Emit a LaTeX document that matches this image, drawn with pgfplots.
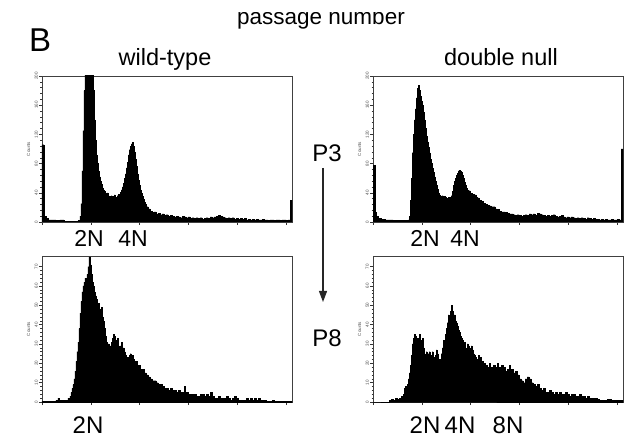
\documentclass[border=0pt]{standalone}
\usepackage{fontspec}
\setmainfont{Liberation Sans}
\usepackage{pgfplots}
\pgfplotsset{compat=1.18}
\usetikzlibrary{arrows.meta}

\pgfplotstableread{
x y
0 106
2 8
4 5
6 3
10 3
14 2
18 3
22 1
26 1
30 1
34 1
36 2
38 8
39 25
40 70
41 125
42 180
43 210
44 230
46 240
48 235
50 210
51 180
52 140
53 112
54 92
55 80
56 70
57 62
58 56
59 52
60 47
61 44
62 42
63 40
64 38
65 40
66 36
67 35
68 34
69 36
70 33
71 35
72 37
73 32
74 34
75 36
76 38
77 35
78 41
79 44
80 48
81 53
82 60
83 66
84 74
85 82
86 92
87 99
88 104
89 107
90 109
91 104
92 96
93 86
94 76
95 66
96 57
97 50
98 44
99 39
100 35
101 31
102 27
103 24
104 21
106 18
108 15
110 13
112 14
114 11
116 12
118 10
120 11
122 9
124 10
126 8
128 9
130 8
132 7
134 8
136 7
138 6
140 8
142 7
144 6
146 7
148 5
150 6
152 5
154 6
156 5
158 6
160 4
162 5
164 6
166 5
168 7
170 6
172 7
174 8
176 9
178 8
180 7
182 6
184 5
186 6
188 5
190 6
192 4
194 5
196 4
198 5
200 4
202 5
204 3
206 4
208 3
210 4
212 3
214 4
216 3
218 3
220 4
222 3
224 3
226 2
228 3
230 3
232 2
234 3
236 3
238 2
240 3
242 3
244 2
246 3
248 30
250 30
}\wtthree

\pgfplotstableread{
x y
0 78
2 14
3 8
5 5
8 4
12 3
16 3
20 2
24 2
28 2
32 2
35 3
36 8
37 30
38 60
39 95
40 120
41 140
42 155
43 170
44 183
45 187
46 180
47 172
48 166
49 160
50 150
51 140
52 128
53 118
54 110
55 102
56 95
57 86
58 80
59 74
60 68
61 62
62 56
63 50
64 45
65 40
66 37
67 36
68 34
69 36
70 33
71 35
72 34
73 33
74 32
75 34
76 33
77 34
78 36
79 42
80 50
81 56
82 60
83 64
84 67
85 70
86 71
87 70
88 68
89 64
90 60
91 54
92 50
93 46
94 44
95 42
96 43
97 40
98 39
99 37
100 38
101 36
102 37
103 34
104 33
106 30
108 28
110 26
112 24
114 23
116 22
118 21
120 21
122 18
124 17
126 15
128 14
130 14
132 13
134 12
136 11
138 11
140 10
142 9
144 10
146 9
148 8
150 9
152 10
154 9
156 11
158 10
160 11
162 9
164 12
166 11
168 10
170 9
172 8
174 9
176 8
178 9
180 10
182 8
184 7
186 8
188 9
190 7
192 6
194 7
196 6
198 7
200 6
202 5
204 6
206 5
208 6
210 5
212 4
214 6
216 5
218 4
220 5
222 4
224 4
226 3
228 4
230 3
232 4
234 3
236 3
238 4
240 3
242 3
244 4
246 3
248 100
250 100
}\dnthree

\pgfplotstableread{
x y
0 0.3
14 1
16 2
17 1
20 1
24 1
26 2
28 3
29 5
30 7
31 9
32 12
33 16
34 21
35 26
36 31
37 38
38 46
39 52
40 57
41 60
42 62
43 64
44 63
45 66
46 70
47 75
48 71
49 66
50 62
51 60
52 57
53 55
54 53
55 50
56 51
57 48
58 47
59 49
60 44
61 42
62 38
63 34
64 31
65 29
66 30
67 28
68 29
69 31
70 33
71 35
72 34
73 32
74 30
75 33
76 29
77 27
78 29
79 31
80 27
81 28
82 26
83 24
84 23
85 22
86 23
87 24
88 25
89 23
90 24
91 22
92 21
93 20
94 21
95 19
96 18
97 19
98 17
99 16
100 17
102 15
104 14
106 13
108 12
110 11
112 11
114 10
116 9
118 9
120 8
122 7
124 7
126 6
128 7
130 6
132 6
134 5
136 6
138 5
140 5
142 8
143 5
146 4
148 4
150 4
152 4
154 3
156 3
158 4
160 4
162 3
164 4
166 3
168 5
170 3
172 2
174 2
176 3
178 2
180 2
182 2
184 3
186 2
188 1
190 2
192 3
194 2
196 1
198 1
200 1
202 1
204 2
206 1
208 2
210 1
212 2
214 1
216 2
218 1
220 1
222 1
224 0.5
230 1
232 0.5
240 0.5
250 0.5
}\wteight

\pgfplotstableread{
x y
0 0
16 1
18 1.5
20 1
22 2
24 1.5
26 2
28 3
30 4
31 7
32 8
33 7
34 9
35 12
36 15
37 19
38 24
39 30
40 33
41 35
42 34
43 33
44 31
45 33
46 35
47 32
48 30
49 33
50 28
51 25
52 24
53 26
54 23
55 25
56 26
57 22
58 24
59 26
60 23
61 21
62 24
63 27
64 25
65 22
66 21
67 22
68 25
69 28
70 32
71 30
72 35
73 38
74 41
75 45
76 43
77 47
78 50
79 47
80 44
81 45
82 42
83 41
84 39
85 37
86 36
87 34
88 33
89 32
90 30
91 31
92 28
93 27
94 30
95 29
96 28
97 26
98 29
99 27
100 25
101 24
102 23
103 22
104 22
105 24
106 23
108 21
110 20
112 19
114 18
116 20
117 17
118 18
120 19
122 18
124 20
125 17
126 18
128 19
130 18
132 16
134 17
136 19
137 16
138 17
140 15
142 16
144 14
146 12
148 11
150 10
152 12
154 13
156 12
158 10
160 9
162 8
164 9
166 7
168 6
170 7
172 5
174 5
176 6
178 5
180 4
182 5
184 4
186 5
188 4
190 4
192 5
194 4
196 3
198 4
200 4
202 3
204 3
206 4
208 3
210 3
212 2
214 3
216 2
218 2
220 2
222 2
224 1.5
226 1
234 1.5
238 1
250 1
}\dneight

\pgfplotsset{hist/.style={
  scale only axis, width=250pt, height=146pt,
  xmin=0, xmax=250, ymin=0,
  anchor=south west,
  axis line style={black!75, line width=0.6pt},
  tick pos=left, tick align=outside,
  major tick length=3pt, minor tick length=1.5pt,
  every tick/.style={black!80, line width=0.45pt},
  xtick={0,48.83,97.66,146.48,195.31,244.14}, xticklabels={},
  minor x tick num=4,
  /pgf/number format/assume math mode=true,
  yticklabel style={rotate=90, anchor=south, font=\fontsize{4.5}{5}\selectfont, text=black!70, inner sep=1pt},
  ylabel={Counts},
  ylabel style={font=\fontsize{4.5}{5}\selectfont, text=black!70},
},
histplot/.style={fill=black, draw=black, line width=0.2pt, const plot}}

\begin{document}
\begin{tikzpicture}[x=1pt,y=1pt]

\begin{axis}[hist, at={(42pt,215pt)}, ymax=200, ytick={0,40,80,120,160,200}, minor y tick num=4]
\addplot[histplot] table {\wtthree} \closedcycle;
\end{axis}
\begin{axis}[hist, at={(373pt,215pt)}, ymax=200, ytick={0,40,80,120,160,200}, minor y tick num=4]
\addplot[histplot] table {\dnthree} \closedcycle;
\end{axis}
\begin{axis}[hist, at={(42pt,35pt)}, ymax=75.5, ytick={0,10,20,30,40,50,60,70}, minor y tick num=4]
\addplot[histplot] table {\wteight} \closedcycle;
\end{axis}
\begin{axis}[hist, at={(373pt,35pt)}, ymax=75.5, ytick={0,10,20,30,40,50,60,70}, minor y tick num=4]
\addplot[histplot] table {\dneight} \closedcycle;
\end{axis}

\node[anchor=base, font=\fontsize{22.5}{24}\selectfont] at (321,412) {passage number};
\fill[white] (180,425) rectangle (470,445);
\node[anchor=base west, inner sep=0pt, font=\fontsize{33}{35}\selectfont] at (29,385) {B};
\node[anchor=base, font=\fontsize{23.5}{25}\selectfont] at (165,371) {wild-type};
\node[anchor=base, font=\fontsize{23.5}{25}\selectfont] at (501,371) {double null};
\node[anchor=base, font=\fontsize{24}{25}\selectfont] at (327,275) {P3};
\node[anchor=base, font=\fontsize{24}{25}\selectfont] at (327,90) {P8};
\draw[line width=1.2pt, black!85, -{Triangle[length=11pt,width=8pt]}] (323,269) -- (323,135);

\node[anchor=base, font=\fontsize{23}{24}\selectfont] at (89,190) {2N};
\node[anchor=base, font=\fontsize{23}{24}\selectfont] at (133,190) {4N};
\node[anchor=base, font=\fontsize{23}{24}\selectfont] at (425,190) {2N};
\node[anchor=base, font=\fontsize{23}{24}\selectfont] at (465,190) {4N};
\node[anchor=base, font=\fontsize{24}{25}\selectfont] at (88,4) {2N};
\node[anchor=base, font=\fontsize{24}{25}\selectfont] at (425,4) {2N};
\node[anchor=base, font=\fontsize{24}{25}\selectfont] at (460,4) {4N};
\node[anchor=base, font=\fontsize{24}{25}\selectfont] at (508,4) {8N};

\pgfresetboundingbox
\useasboundingbox (0,0) rectangle (630,437);
\end{tikzpicture}
\end{document}
